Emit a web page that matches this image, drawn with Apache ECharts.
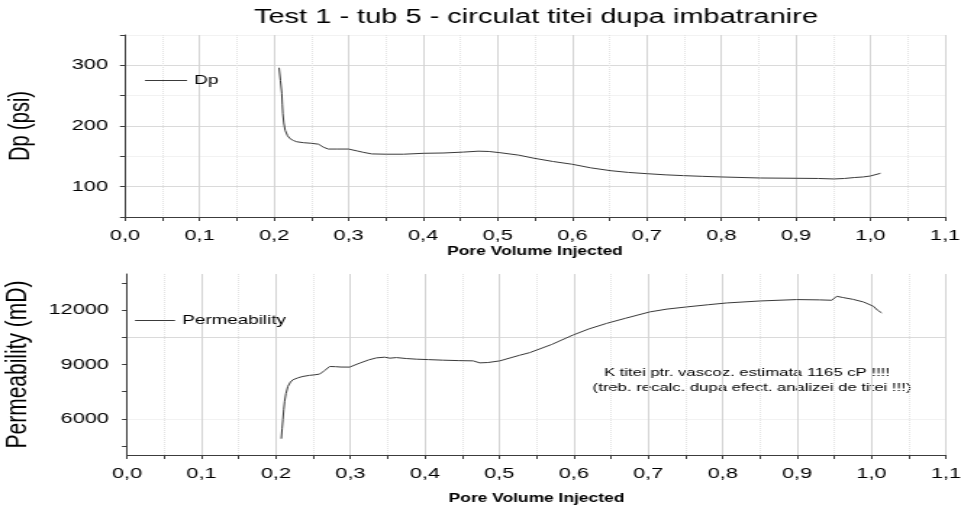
<!DOCTYPE html>
<html>
<head>
<meta charset="utf-8">
<script src="https://cdn.jsdelivr.net/npm/echarts@6/dist/echarts.min.js"></script>
<style>
html,body{margin:0;padding:0;background:#fff;overflow:hidden;}
#wrap{width:961px;height:505px;overflow:hidden;}
#c{width:663px;height:505px;transform:scaleX(1.449472);transform-origin:0 0;}
</style>
</head>
<body>
<div id="wrap"><div id="c"></div></div>
<script>
// ---- data ----
const titleText = 'Test 1 - tub 5 - circulat titei dupa imbatranire';
const xTickLabels = ['0,0','0,1','0,2','0,3','0,4','0,5','0,6','0,7','0,8','0,9','1,0','1,1'];
const dpTicks = [100, 200, 300];
const permTicks = [6000, 9000, 12000];
const permMinorTicks = [4500, 6000, 7500, 9000, 10500, 12000, 13500];

const pvDp = [0.2067,0.2085,0.2103,0.2110,0.2117,0.2130,0.2148,0.2180,0.2215,0.2260,0.2304,0.2393,0.2500,0.2595,0.2630,0.2662,0.2729,0.2850,0.2998,0.3110,0.3200,0.3310,0.3500,0.3736,0.4004,0.4273,0.4540,0.4740,0.4880,0.5030,0.5280,0.5480,0.5740,0.5996,0.6250,0.6510,0.6750,0.7000,0.7250,0.7490,0.7750,0.8000,0.8520,0.9016,0.9300,0.9510,0.9650,0.9780,0.9900,1.0000,1.0134];
const dp = [296,275,254,236,221,205,193,184,179,176,174,172.5,171.5,170,168,165,162,162,162,159,156.5,154,153.5,153.5,155,155.5,157,158.5,158,156,152,147,141.5,137,131,126.4,123.5,121.4,119.5,118.2,117,116,114.3,113.8,113.5,112.7,113.5,115,116,117.6,122];

const pvK = [0.2072,0.2083,0.2094,0.2105,0.2117,0.2135,0.2161,0.2195,0.2229,0.2300,0.2363,0.2450,0.2520,0.2587,0.2620,0.2655,0.2722,0.2800,0.2870,0.2990,0.3125,0.3250,0.3350,0.3460,0.3530,0.3618,0.3750,0.3887,0.4050,0.4245,0.4450,0.4648,0.4738,0.4850,0.5007,0.5276,0.5410,0.5700,0.5990,0.6200,0.6440,0.6700,0.7023,0.7250,0.7516,0.7800,0.8054,0.8500,0.8995,0.9300,0.9465,0.9532,0.9620,0.9750,0.9890,1.0024,1.0080,1.0137];
const perm = [4900,5450,5960,6500,6970,7400,7790,8030,8160,8270,8340,8400,8430,8470,8560,8670,8890,8880,8860,8856,9075,9260,9366,9404,9350,9382,9330,9294,9270,9239,9215,9201,9090,9110,9201,9514,9657,10100,10628,10960,11270,11560,11907,12060,12181,12300,12400,12510,12587,12570,12549,12768,12697,12600,12455,12220,12000,11852];

const noteLines = ['K titei ptr. vascoz. estimata 1165 cP !!!!', '(treb. recalc. dupa efect. analizei de titei !!!)'];

// ---- layout helpers (the drawing is stretched horizontally like the reference) ----
const S = 961 / 663;
const X = px => px / S;
const FONT = 'Liberation Sans, Arial, sans-serif';
const axisColor = '#3c3c3c';

function xAxisFor(gridIndex, nameGap) {
  return {
    type: 'value', gridIndex, min: 0, max: 1.1, interval: 0.1,
    name: 'Pore Volume Injected', nameLocation: 'middle', nameGap,
    nameTextStyle: { fontFamily: FONT, fontSize: 12, fontWeight: 'bold', color: '#000' },
    axisLine: { show: true, onZero: false, lineStyle: { color: axisColor, width: 1 } },
    axisTick: { show: true, length: 4, lineStyle: { color: axisColor } },
    minorTick: { show: true, splitNumber: 2, length: 4, lineStyle: { color: axisColor } },
    axisLabel: {
      fontFamily: FONT, fontSize: 15, color: '#000', margin: 11,
      formatter: v => xTickLabels[Math.round(v * 10)] || ''
    },
    splitLine: { show: true, lineStyle: { color: '#d4d4d4', width: 1 } },
    minorSplitLine: { show: true, lineStyle: { color: '#e4e4e4', width: 1, type: 'dotted' } }
  };
}

const lineStyleData = { color: '#3a3a3a', width: 1 };
const legendCommon = {
  padding: 0, icon: 'rect', itemHeight: 1, itemGap: 0,
  itemStyle: { color: '#3a3a3a' },
  textStyle: { fontFamily: FONT, fontSize: 13, color: '#000', padding: [0, 0, 0, 0] }
};

const option = {
  animation: false,
  backgroundColor: '#fff',
  title: {
    text: titleText, left: X(254), top: 7, padding: 0,
    textStyle: { fontFamily: FONT, fontSize: 20, fontWeight: 'normal', color: '#000' }
  },
  legend: [
    Object.assign({ data: ['Dp'], left: X(145), top: 74, itemWidth: X(42) }, legendCommon),
    Object.assign({ data: ['Permeability'], left: X(135), top: 314, itemWidth: X(40) }, legendCommon)
  ],
  grid: [
    { left: X(125), right: X(16), top: 35, bottom: 288, outerBoundsMode: 'none' },
    { left: X(127), right: X(15), top: 274, bottom: 50, outerBoundsMode: 'none' }
  ],
  xAxis: [xAxisFor(0, 29), xAxisFor(1, 38)],
  yAxis: [
    {
      type: 'value', gridIndex: 0, min: 50, max: 350, interval: 50,
      name: 'Dp (psi)', nameLocation: 'middle', nameGap: 62,
      nameTextStyle: { fontFamily: FONT, fontSize: 20, color: '#000' },
      axisLine: { show: true, lineStyle: { color: axisColor, width: 1 } },
      axisTick: { show: true, length: X(5), lineStyle: { color: axisColor } },
      axisLabel: { fontFamily: FONT, fontSize: 15, color: '#000', margin: X(17), customValues: dpTicks,
        formatter: v => String(v) },
      splitLine: { show: true, lineStyle: { color: ['#f2f2f2', '#dadada'], width: 1 } }
    },
    {
      type: 'value', gridIndex: 1, min: 4000, max: 14000, interval: 500,
      name: 'Permeability (mD)', nameLocation: 'middle', nameGap: 64,
      nameTextStyle: { fontFamily: FONT, fontSize: 21, color: '#000' },
      axisLine: { show: true, lineStyle: { color: axisColor, width: 1 } },
      axisTick: { show: true, length: X(5), lineStyle: { color: axisColor }, customValues: permMinorTicks },
      axisLabel: { fontFamily: FONT, fontSize: 15, color: '#000', margin: X(18), customValues: permTicks,
        formatter: v => String(v) },
      splitLine: { show: true, lineStyle: {
        color: ['rgba(0,0,0,0)', '#f2f2f2', 'rgba(0,0,0,0)', 'rgba(0,0,0,0)', '#dadada', 'rgba(0,0,0,0)'], width: 1 } }
    }
  ],
  series: [
    { name: 'Dp', type: 'line', xAxisIndex: 0, yAxisIndex: 0, showSymbol: false, symbol: 'none',
      lineStyle: lineStyleData, itemStyle: { color: '#3a3a3a' },
      data: pvDp.map((x, i) => [x, dp[i]]) },
    { name: 'Permeability', type: 'line', xAxisIndex: 1, yAxisIndex: 1, showSymbol: false, symbol: 'none',
      lineStyle: lineStyleData, itemStyle: { color: '#3a3a3a' },
      data: pvK.map((x, i) => [x, perm[i]]) }
  ],
  graphic: [
    { type: 'text', x: X(747), y: 373, style: { text: noteLines[0], fill: '#000', font: '11.5px ' + FONT, textAlign: 'center', textVerticalAlign: 'middle' } },
    { type: 'text', x: X(752), y: 388, style: { text: noteLines[1], fill: '#000', font: '11.5px ' + FONT, textAlign: 'center', textVerticalAlign: 'middle' } }
  ]
};

const chart = echarts.init(document.getElementById('c'), null, { renderer: 'canvas', width: 663, height: 505 });
chart.setOption(option);
</script>
</body>
</html>
